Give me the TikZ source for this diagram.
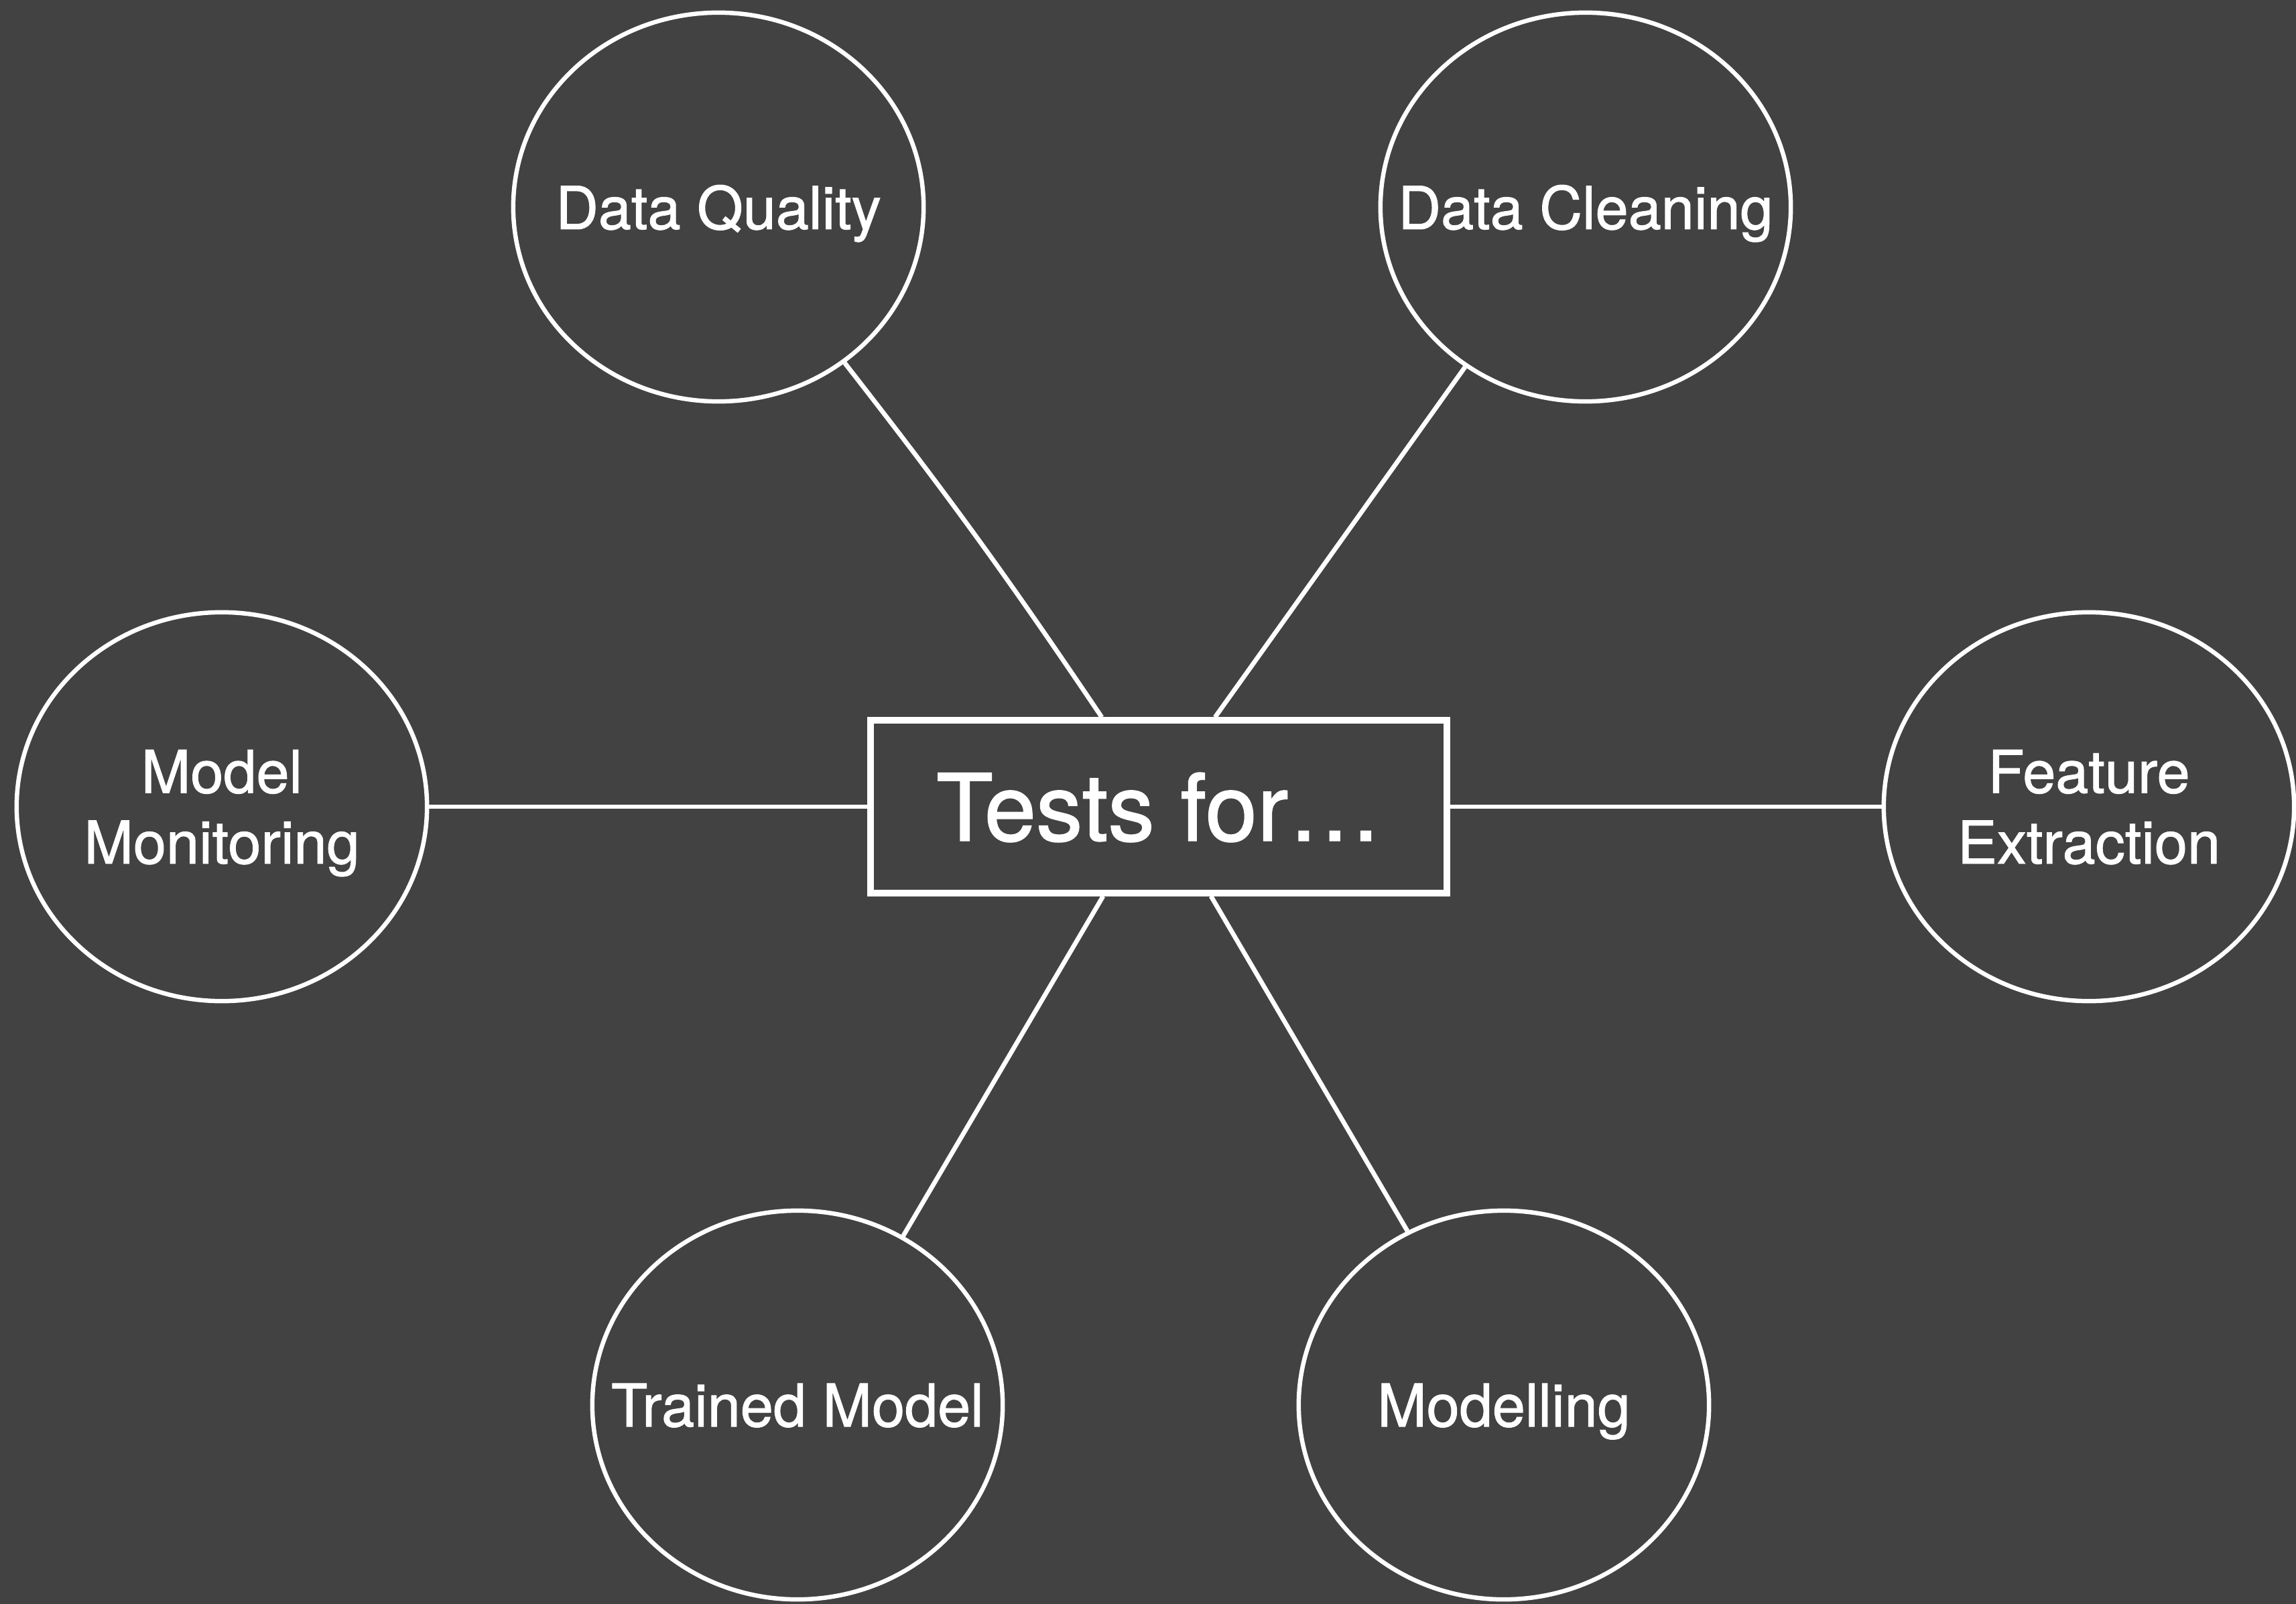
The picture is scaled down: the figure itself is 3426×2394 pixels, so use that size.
\documentclass[tikz,border=0pt]{standalone}
\usepackage{fontspec}
\setmainfont{TeX Gyre Heros}
\newfontfamily\labelfont{TeX Gyre Heros}[FakeBold=1.2]
\usetikzlibrary{shapes.geometric,calc}
\definecolor{canvas}{RGB}{66,66,66}
\begin{document}
\begin{tikzpicture}[x=0.01cm,y=-0.01cm,
  bubble/.style={draw=white, line width=0.065cm, ellipse,
    minimum width=6.12cm, minimum height=5.80cm, inner sep=0pt},
  bubbletext/.style={text=white, font=\labelfont\fontsize{25.1}{30}\selectfont,
    align=center, text depth=0pt, inner sep=0pt},
  hub/.style={draw=white, line width=0.1cm, minimum width=8.6cm,
    minimum height=2.57cm, text=white, font=\labelfont\fontsize{39.5}{46}\selectfont,
    text depth=0pt, inner sep=0pt},
  link/.style={draw=white, line width=0.068cm}]
\useasboundingbox (0,0) rectangle (3426,2394);
\fill[canvas] (0,0) rectangle (3426,2394);

% central box
\node[hub] (box) at (1729,1204) {Tests for…};

% surrounding topics
\node[bubble] (dq) at (1072,309) {};
\node[bubble] (dc) at (2366,309) {};
\node[bubble] (mm) at (331,1204) {};
\node[bubble] (fe) at (3117,1204) {};
\node[bubble] (tm) at (1190,2097) {};
\node[bubble] (md) at (2244,2097) {};

\node[bubbletext] (dqt) at (dq) {Data Quality};
\node[bubbletext] (dct) at (dc) {Data Cleaning};
\node[bubbletext] (mmt) at (mm) {Model\\Monitoring};
\node[bubbletext] (fet) at (fe) {Feature\\Extraction};
\node[bubbletext] (tmt) at (tm) {Trained Model};
\node[bubbletext] (mdt) at (md) {Modelling};

% connectors
\draw[link] (dq.-51.3) to[bend left=2] ($(box.north)+(-85,0)$);
\draw[link] (dc.-127.2) -- ($(box.north)+(84,0)$);
\draw[link] (mm.east) -- (box.west);
\draw[link] (fe.west) -- (box.east);
\draw[link] (tm.58.6) -- ($(box.south)+(-83,0)$);
\draw[link] (md.119.9) -- ($(box.south)+(78,0)$);
\end{tikzpicture}
\end{document}
